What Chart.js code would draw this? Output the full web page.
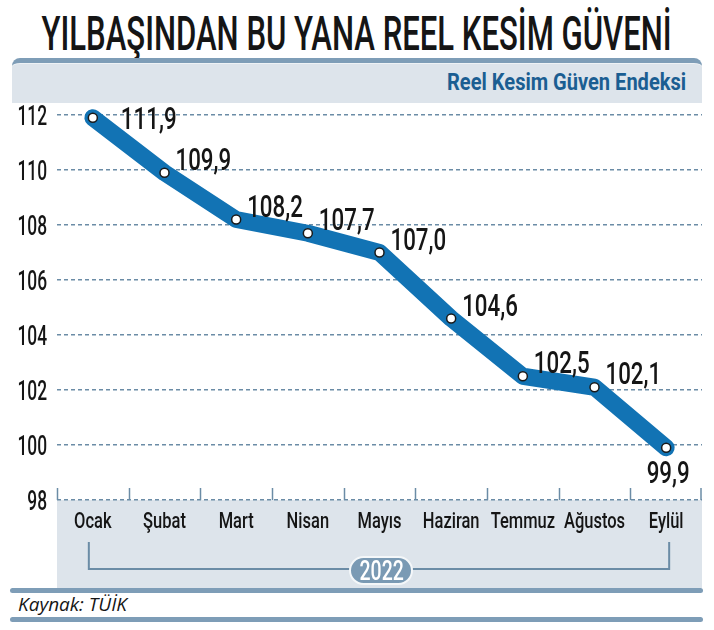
<!DOCTYPE html>
<html lang="tr">
<head>
<meta charset="utf-8">
<script src="https://cdn.jsdelivr.net/npm/chart.js@4.4.1/dist/chart.umd.min.js"></script>
<style>
  html, body { margin: 0; padding: 0; background: #fff; }
  body { width: 714px; height: 630px; position: relative; overflow: hidden; font-family: Roboto, sans-serif; }
  .sikis { display: inline-block; white-space: nowrap; }
  #baslik { position: absolute; left: -500px; top: 6px; width: 1714px; text-align: center; font-size: 49px; line-height: 56px; font-weight: 500; color: #151515; }
  #baslik .sikis { transform-origin: center; }
  #ust { position: absolute; left: 12px; top: 58px; width: 690px; height: 40px; background: #dde4eb; border-top: 5px solid #7e9db7; border-radius: 8px 8px 0 0; box-shadow: inset 0 1px 0 #eef2f5; }
  #endeks { position: absolute; right: 28px; top: 69px; font-size: 24px; line-height: 26px; font-weight: 700; color: #1b5e92; }
  #endeks .sikis { transform-origin: right center; }
  #alt { position: absolute; left: 57px; top: 500px; width: 645px; height: 88px; background: #dde4eb; }
  .cubuk { position: absolute; left: 10px; width: 693px; height: 5px; background: #7e9db7; border-radius: 3px; }
  #kaynak { position: absolute; left: 18px; top: 593px; font-family: "Open Sans", sans-serif; font-style: italic; font-size: 19px; line-height: 23px; color: #151515; }
  #kaynak b { font-weight: 500; }
  #yil { position: absolute; left: 349px; top: 556px; width: 60px; height: 25px; border: 2px solid #f4f7f9; border-radius: 15px; background: #7a9ab4; color: #fff; text-align: center; font-size: 27px; line-height: 26px; font-weight: 500; z-index: 2; }
  #yil .sikis { transform-origin: center; }
  #grafik { position: absolute; left: 0; top: 0; z-index: 1; }
</style>
</head>
<body>
<div id="baslik"><span class="sikis" data-gen="630">YILBAŞINDAN BU YANA REEL KESİM GÜVENİ</span></div>
<div id="ust"></div>
<div id="endeks"><span class="sikis" data-gen="239">Reel Kesim Güven Endeksi</span></div>
<div id="alt"></div>
<div class="cubuk" style="top:588px"></div>
<div class="cubuk" style="top:617px"></div>
<div id="kaynak"><b>Kaynak:</b> TÜİK</div>
<div id="yil"><span class="sikis" data-gen="44">2022</span></div>
<canvas id="grafik" width="714" height="630"></canvas>

<script>
// veriler
const aylar = ['Ocak', 'Şubat', 'Mart', 'Nisan', 'Mayıs', 'Haziran', 'Temmuz', 'Ağustos', 'Eylül'];
const endeksDegerleri = [111.9, 109.9, 108.2, 107.7, 107.0, 104.6, 102.5, 102.1, 99.9];
const yMin = 98;
const yMax = 112;
const yAdim = 2;

// HTML yazilarini istenen genislige sikistir
function sikistir() {
    document.querySelectorAll('.sikis').forEach(el => {
        const hedef = parseFloat(el.dataset.gen);
        const dogal = el.offsetWidth;
        el.style.transform = 'scaleX(' + (hedef / dogal) + ')';
    });
}
sikistir();
document.fonts.ready.then(sikistir);

const MAVI_CIZGI = '#6b8ca6';

function yaz(ctx, metin, x, y, boyut, sx, hiza, agirlik) {
    // y = buyuk harf ortasi
    ctx.save();
    ctx.font = (agirlik || 500) + ' ' + boyut + 'px Roboto, sans-serif';
    ctx.fillStyle = '#151515';
    ctx.textBaseline = 'alphabetic';
    ctx.textAlign = hiza;
    ctx.translate(x, y + boyut * 0.355);
    ctx.scale(sx, 1);
    ctx.fillText(metin, 0, 0);
    ctx.restore();
}

const yaziEklentisi = {
    id: 'yazilar',
    afterDraw(chart) {
        const ctx = chart.ctx;
        const xs = chart.scales.x;
        const ys = chart.scales.y;
        const alan = chart.chartArea;

        // y ekseni etiketleri
        ys.ticks.forEach(t => {
            yaz(ctx, String(t.value), alan.left - 10, ys.getPixelForValue(t.value), 28, 0.62, 'right', 500);
        });

        // x ekseni kucuk cizgileri
        const gen = (alan.right - alan.left) / aylar.length;
        ctx.save();
        ctx.strokeStyle = MAVI_CIZGI;
        ctx.lineWidth = 1.5;
        for (let i = 0; i <= aylar.length; i++) {
            const x = Math.round(alan.left + i * gen) + (i === aylar.length ? -1 : 0.5);
            ctx.beginPath();
            ctx.moveTo(x, alan.bottom - 12);
            ctx.lineTo(x, alan.bottom);
            ctx.stroke();
        }
        ctx.restore();

        // ay isimleri
        aylar.forEach((ay, i) => {
            yaz(ctx, ay, xs.getPixelForValue(i), alan.bottom + 20, 22, 0.75, 'center', 500);
        });

        // 2022 koseli cizgisi
        const x0 = xs.getPixelForValue(0) - 4;
        const x1 = xs.getPixelForValue(aylar.length - 1) + 3;
        ctx.save();
        ctx.strokeStyle = MAVI_CIZGI;
        ctx.lineWidth = 2;
        ctx.beginPath();
        ctx.moveTo(x0, alan.bottom + 42);
        ctx.lineTo(x0, alan.bottom + 69);
        ctx.lineTo(x1, alan.bottom + 69);
        ctx.lineTo(x1, alan.bottom + 42);
        ctx.stroke();
        ctx.restore();

        // deger etiketleri
        const noktalar = chart.getDatasetMeta(0).data;
        noktalar.forEach((n, i) => {
            const metin = endeksDegerleri[i].toFixed(1).replace('.', ',');
            if (i === 0) {
                yaz(ctx, metin, n.x + 28, n.y, 31, 0.72, 'left', 500);
            } else if (i === noktalar.length - 1) {
                yaz(ctx, metin, n.x + 2, n.y + 24, 31, 0.72, 'center', 500);
            } else {
                yaz(ctx, metin, n.x + 11, n.y - 14, 31, 0.72, 'left', 500);
            }
        });
    }
};

new Chart(document.getElementById('grafik').getContext('2d'), {
    type: 'line',
    data: {
        labels: aylar,
        datasets: [{
            label: 'Reel Kesim Güven Endeksi',
            data: endeksDegerleri,
            borderColor: '#1273b4',
            borderWidth: 17,
            borderJoinStyle: 'round',
            borderCapStyle: 'round',
            tension: 0,
            clip: false,
            pointRadius: 4.5,
            pointBackgroundColor: '#ffffff',
            pointBorderColor: '#1a1a1a',
            pointBorderWidth: 1.5
        }]
    },
    options: {
        responsive: false,
        animation: false,
        layout: { padding: { left: 57, right: 12, top: 115, bottom: 130 } },
        plugins: {
            legend: { display: false },
            tooltip: { enabled: false }
        },
        scales: {
            x: {
                type: 'category',
                offset: true,
                grid: { display: false },
                border: { display: false },
                ticks: { display: false },
                afterFit: s => { s.height = 0; }
            },
            y: {
                min: yMin,
                max: yMax,
                ticks: { display: false, stepSize: yAdim },
                border: { display: false, dash: [4, 3] },
                grid: {
                    color: MAVI_CIZGI,
                    lineWidth: 1.5,
                    drawTicks: false
                },
                afterFit: s => { s.width = 0; }
            }
        }
    },
    plugins: [yaziEklentisi]
});
</script>
</body>
</html>
